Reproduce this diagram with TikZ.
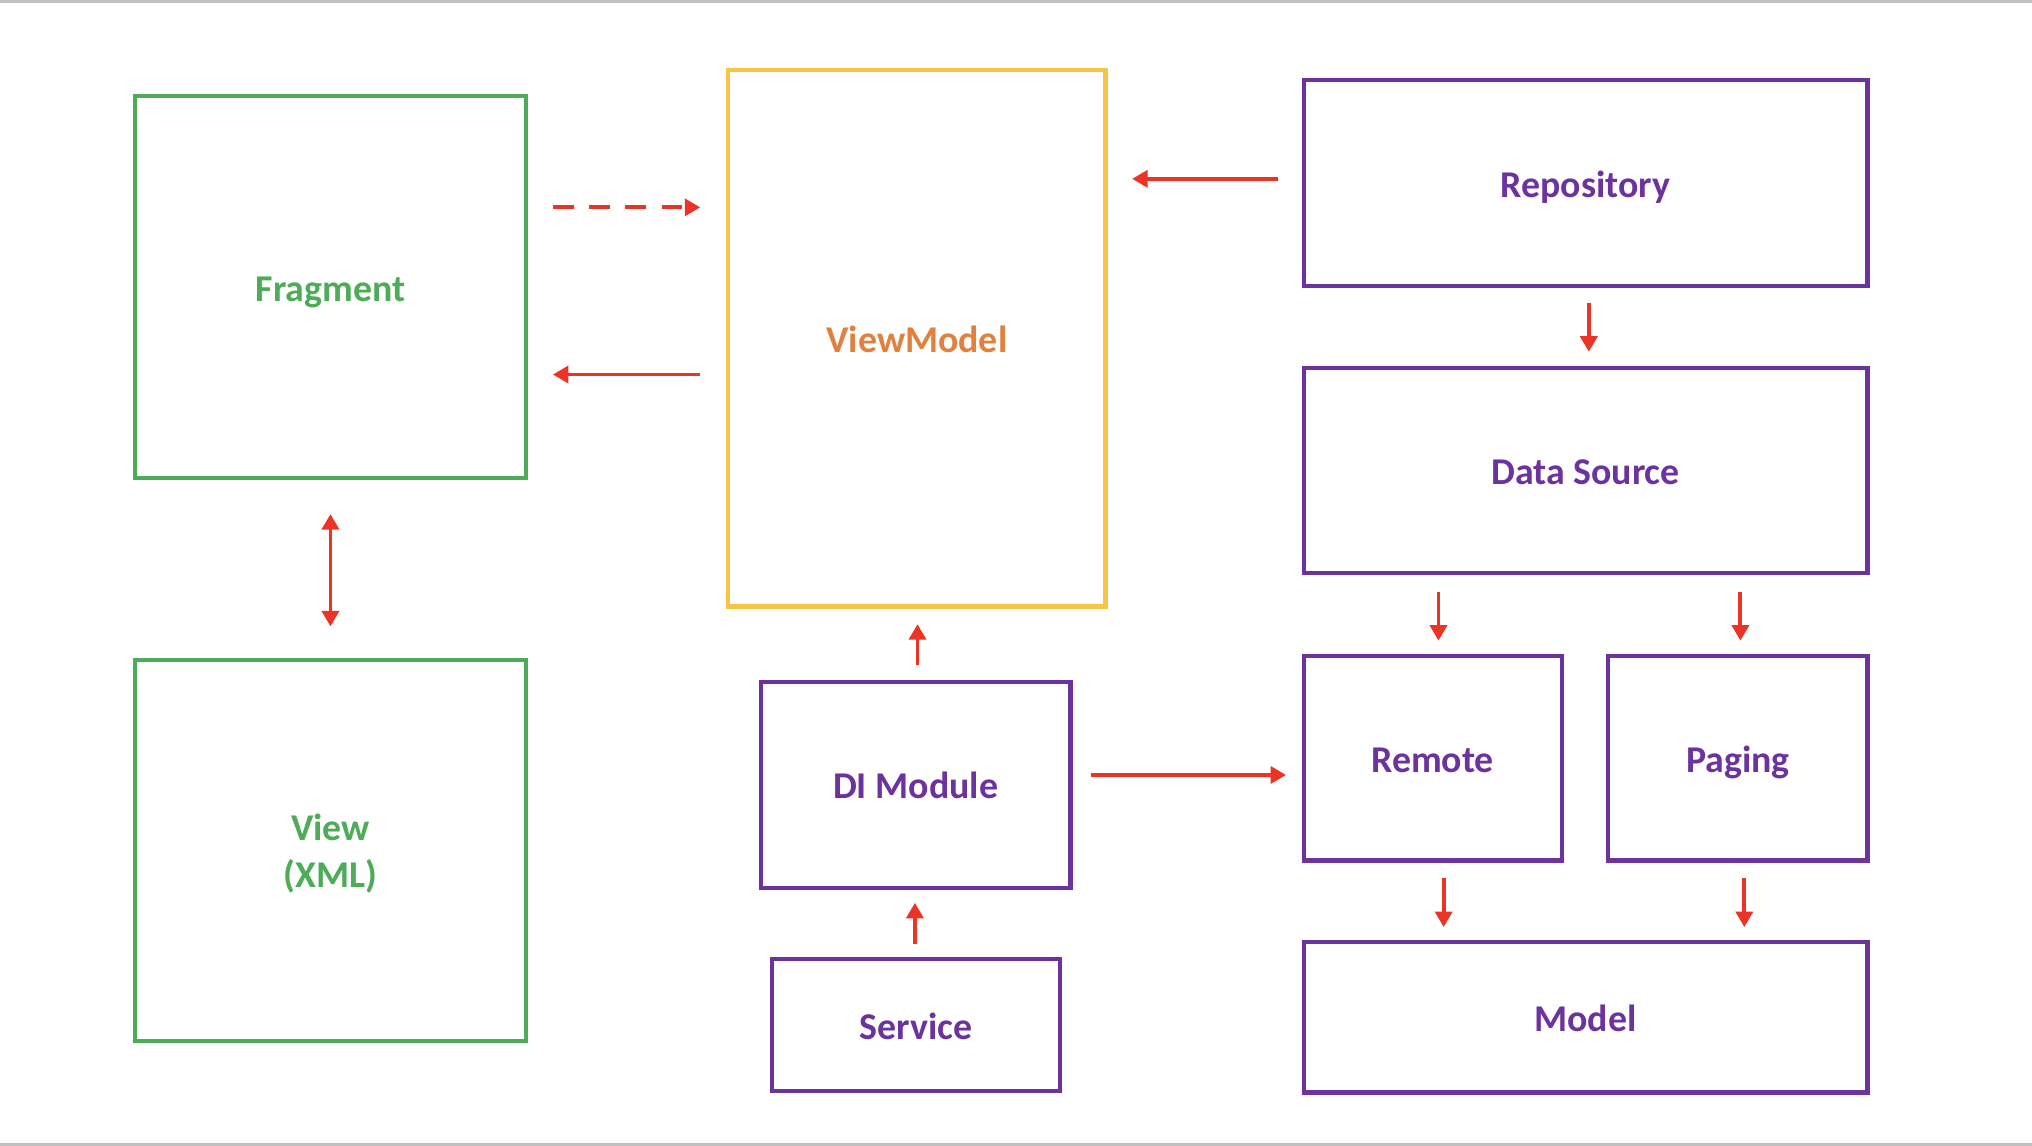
\documentclass[tikz,border=0pt]{standalone}
\usepackage{fontspec}
\setmainfont{Carlito}
\usetikzlibrary{arrows.meta,calc}
\definecolor{cgreen}{RGB}{76,172,88}
\definecolor{cpurple}{RGB}{108,50,158}
\definecolor{cyellow}{RGB}{246,196,70}
\definecolor{corange}{RGB}{226,129,61}
\definecolor{cred}{RGB}{236,52,38}
\definecolor{cgray}{RGB}{192,192,192}
\tikzset{
  box/.style={draw,line width=1.6pt,rectangle,inner sep=0pt,font=\fontsize{14.6pt}{18pt}\selectfont\bfseries,align=center},
  gbox/.style={box,draw=cgreen,text=cgreen},
  pbox/.style={box,draw=cpurple,text=cpurple},
  ybox/.style={box,draw=cyellow,text=corange},
  tip/.tip={Triangle[length=6pt,width=6.5pt]},
  arr/.style={draw=cred,line width=1.5pt,-tip},
  darr/.style={draw=cred,line width=1.5pt,tip-tip},
  dsh/.style={dash pattern=on 8pt off 6pt}
}
\newcommand{\dn}[1]{\raisebox{-5.4pt}[0pt][0pt]{#1}}
\begin{document}
\begin{tikzpicture}[x=0.5pt,y=-0.5pt]
\useasboundingbox (0,0) rectangle (1568,884);
\fill[white] (0,0) rectangle (1568,884);
\draw[cgray,line width=1pt] (0,1) -- (1568,1);
\draw[cgray,line width=1pt] (0,883) -- (1568,883);
% boxes
\node[gbox,minimum width=151pt,minimum height=147.5pt] (frag) at (255,221.5) {\dn{Fragment}};
\node[gbox,minimum width=151pt,minimum height=147pt] (view) at (255,656) {\dn{View}\\\dn{(XML)}};
\node[ybox,minimum width=145.5pt,minimum height=207pt] (vm) at (707.5,261) {\dn{ViewModel}};
\node[pbox,minimum width=217.5pt,minimum height=79.5pt] (repo) at (1223.5,141.5) {\dn{Repository}};
\node[pbox,minimum width=217.5pt,minimum height=79pt] (ds) at (1223.5,363) {\dn{Data Source}};
\node[pbox,minimum width=99.5pt,minimum height=79pt] (remote) at (1105.5,585) {\dn{Remote}};
\node[pbox,minimum width=100pt,minimum height=79pt] (paging) at (1341,585) {\dn{Paging}};
\node[pbox,minimum width=217.5pt,minimum height=58pt] (model) at (1223.5,785) {\dn{Model}};
\node[pbox,minimum width=119.5pt,minimum height=79.5pt] (di) at (706.5,605.5) {\dn{DI Module}};
\node[pbox,minimum width=111pt,minimum height=51pt] (service) at (707,791) {\dn{Service}};
% connectors
\draw[arr,dsh,shorten <=9.5pt,shorten >=10pt] (frag.east |- 0,160) -- (vm.west |- 0,160);
\draw[arr,shorten <=10pt,shorten >=9.5pt] (vm.west |- 0,289) -- (frag.east |- 0,289);
\draw[arr,shorten <=9pt,shorten >=9.5pt] (repo.west |- 0,138) -- (vm.east |- 0,138);
\draw[darr,shorten <=13pt,shorten >=12pt] (frag.south) -- (view.north);
\draw[arr,shorten <=5.5pt,shorten >=5.5pt] (repo.south -| 1226,0) -- (ds.north -| 1226,0);
\draw[arr,shorten <=6.5pt,shorten >=5pt] (ds.south -| 1110,0) -- (remote.north -| 1110,0);
\draw[arr,shorten <=6.5pt,shorten >=5pt] (ds.south -| 1343,0) -- (paging.north -| 1343,0);
\draw[arr,shorten <=6pt,shorten >=5pt] (remote.south -| 1114,0) -- (model.north -| 1114,0);
\draw[arr,shorten <=6pt,shorten >=5pt] (paging.south -| 1346,0) -- (model.north -| 1346,0);
\draw[arr,shorten <=5.5pt,shorten >=6pt] (di.north -| 708,0) -- (vm.south -| 708,0);
\draw[arr,shorten <=5pt,shorten >=5pt] (service.north -| 706,0) -- (di.south -| 706,0);
\draw[arr,shorten <=7pt,shorten >=6pt] (di.east |- 0,598) -- (remote.west |- 0,598);
\end{tikzpicture}
\end{document}
